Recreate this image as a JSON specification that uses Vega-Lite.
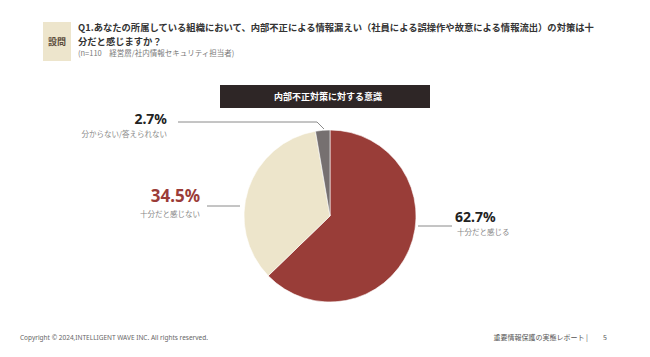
{
  "$schema": "https://vega.github.io/schema/vega-lite/v6.json",
  "width": 650,
  "height": 357,
  "autosize": {"type": "fit", "contains": "padding"},
  "padding": 0,
  "background": "#ffffff",
  "config": {"view": {"stroke": null}, "font": "Noto Sans CJK JP"},
  "data": {
    "values": [
      {"回答": "十分だと感じる", "割合": 0.627, "順": 1},
      {"回答": "十分だと感じない", "割合": 0.345, "順": 2},
      {"回答": "分からない/答えられない", "割合": 0.027, "順": 3}
    ]
  },
  "layer": [
    {
      "data": {"values": [{}]},
      "mark": {"type": "rect", "x": 43, "x2": 71, "y": 22, "y2": 61, "fill": "#ede5cc"},
      "encoding": {}
    },
    {
      "data": {"values": [{}]},
      "mark": {"type": "text", "x": 57, "y": 42, "text": "設問", "fontSize": 9, "fontWeight": "bold", "color": "#5c4d3c", "align": "center", "baseline": "middle"}
    },
    {
      "data": {"values": [{}]},
      "mark": {"type": "text", "x": 78, "y": 28, "text": "Q1.あなたの所属している組織において、内部不正による情報漏えい（社員による誤操作や故意による情報流出）の対策は十", "fontSize": 9.3, "fontWeight": "bold", "color": "#333333", "align": "left", "baseline": "middle"}
    },
    {
      "data": {"values": [{}]},
      "mark": {"type": "text", "x": 78, "y": 41.5, "text": "分だと感じますか？", "fontSize": 9.3, "fontWeight": "bold", "color": "#333333", "align": "left", "baseline": "middle"}
    },
    {
      "data": {"values": [{}]},
      "mark": {"type": "text", "x": 78, "y": 54, "text": "(n=110　経営層/社内情報セキュリティ担当者)", "fontSize": 7.5, "color": "#7a7a7a", "align": "left", "baseline": "middle"}
    },
    {
      "data": {"values": [{}]},
      "mark": {"type": "rect", "x": 220, "x2": 430, "y": 85, "y2": 108, "fill": "#2e2626"},
      "encoding": {}
    },
    {
      "data": {"values": [{}]},
      "mark": {"type": "text", "x": 328, "y": 97, "text": "内部不正対策に対する意識", "fontSize": 9, "fontWeight": "bold", "color": "#ffffff", "align": "center", "baseline": "middle"}
    },
    {
      "mark": {"type": "arc", "x": 330, "y": 216, "radius": 86, "stroke": "#ffffff", "strokeWidth": 0.6},
      "encoding": {
        "theta": {"field": "割合", "type": "quantitative", "stack": true},
        "order": {"field": "順", "type": "quantitative"},
        "color": {
          "field": "回答",
          "type": "nominal",
          "scale": {"domain": ["十分だと感じる", "十分だと感じない", "分からない/答えられない"], "range": ["#993d38", "#ede5cb", "#767070"]},
          "legend": null
        }
      }
    },
    {
      "data": {"values": [{}]},
      "mark": {"type": "rule", "color": "#8a8a8a", "strokeWidth": 1},
      "encoding": {"x": {"value": 178}, "x2": {"value": 317}, "y": {"value": 122}, "y2": {"value": 122}}
    },
    {
      "data": {"values": [{}]},
      "mark": {"type": "rule", "color": "#8a8a8a", "strokeWidth": 1},
      "encoding": {"x": {"value": 317}, "x2": {"value": 324}, "y": {"value": 122}, "y2": {"value": 129}}
    },
    {
      "data": {"values": [{}]},
      "mark": {"type": "rule", "color": "#8a8a8a", "strokeWidth": 1},
      "encoding": {"x": {"value": 207}, "x2": {"value": 240}, "y": {"value": 206}, "y2": {"value": 206}}
    },
    {
      "data": {"values": [{}]},
      "mark": {"type": "rule", "color": "#8a8a8a", "strokeWidth": 1},
      "encoding": {"x": {"value": 418}, "x2": {"value": 452}, "y": {"value": 226}, "y2": {"value": 226}}
    },
    {
      "transform": [{"filter": "datum['順'] == 3"}],
      "mark": {"type": "text", "x": 167, "y": 120, "fontSize": 14, "fontWeight": "bold", "color": "#222222", "align": "right", "baseline": "middle", "font": "Noto Sans"},
      "encoding": {"text": {"field": "割合", "type": "quantitative", "format": ".1%"}}
    },
    {
      "transform": [{"filter": "datum['順'] == 3"}],
      "mark": {"type": "text", "x": 167, "y": 135, "fontSize": 7.5, "color": "#888888", "align": "right", "baseline": "middle"},
      "encoding": {"text": {"field": "回答", "type": "nominal"}}
    },
    {
      "transform": [{"filter": "datum['順'] == 2"}],
      "mark": {"type": "text", "x": 200, "y": 197, "fontSize": 17, "fontWeight": "bold", "color": "#9b3c38", "align": "right", "baseline": "middle", "font": "Noto Sans"},
      "encoding": {"text": {"field": "割合", "type": "quantitative", "format": ".1%"}}
    },
    {
      "transform": [{"filter": "datum['順'] == 2"}],
      "mark": {"type": "text", "x": 200, "y": 215, "fontSize": 7.5, "color": "#888888", "align": "right", "baseline": "middle"},
      "encoding": {"text": {"field": "回答", "type": "nominal"}}
    },
    {
      "transform": [{"filter": "datum['順'] == 1"}],
      "mark": {"type": "text", "x": 455, "y": 218, "fontSize": 14, "fontWeight": "bold", "color": "#222222", "align": "left", "baseline": "middle", "font": "Noto Sans"},
      "encoding": {"text": {"field": "割合", "type": "quantitative", "format": ".1%"}}
    },
    {
      "transform": [{"filter": "datum['順'] == 1"}],
      "mark": {"type": "text", "x": 457, "y": 233, "fontSize": 7.5, "color": "#888888", "align": "left", "baseline": "middle"},
      "encoding": {"text": {"field": "回答", "type": "nominal"}}
    },
    {
      "data": {"values": [{}]},
      "mark": {"type": "text", "x": 20, "y": 338, "text": "Copyright © 2024,INTELLIGENT WAVE INC. All rights reserved.", "fontSize": 6.5, "color": "#666666", "align": "left", "baseline": "middle", "font": "Noto Sans"}
    },
    {
      "data": {"values": [{}]},
      "mark": {"type": "text", "x": 588, "y": 338, "text": "重要情報保護の実態レポート |", "fontSize": 7, "color": "#555555", "align": "right", "baseline": "middle"}
    },
    {
      "data": {"values": [{}]},
      "mark": {"type": "text", "x": 605, "y": 338, "text": "5", "fontSize": 7, "color": "#555555", "align": "center", "baseline": "middle"}
    }
  ]
}
